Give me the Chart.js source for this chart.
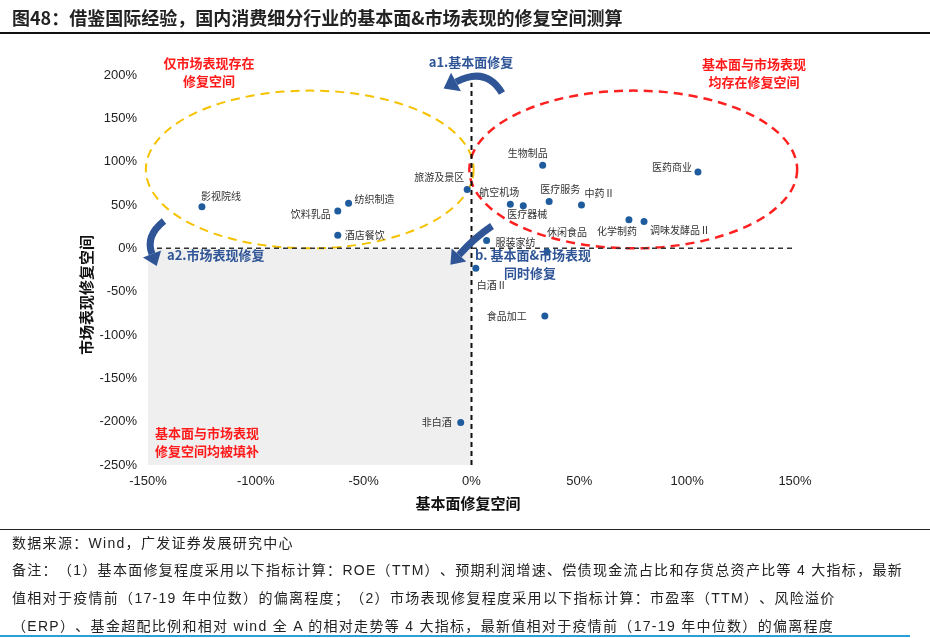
<!DOCTYPE html>
<html>
<head>
<meta charset="utf-8">
<script src="https://cdn.jsdelivr.net/npm/chart.js@4.4.1/dist/chart.umd.min.js"></script>
<style>
  html, body { margin: 0; padding: 0; background: #fff; }
  body { width: 930px; height: 638px; position: relative; overflow: hidden;
         font-family: "Liberation Sans", "Noto Sans CJK SC", sans-serif; color: #222; }
  #wrap { position: absolute; left: 0; top: 0; width: 930px; height: 638px; }
  #title { position: absolute; left: 12px; top: 4px; font: bold 18px "Noto Sans CJK SC", sans-serif;
           color: #222; white-space: nowrap; line-height: 26px; }
  #rule { position: absolute; left: 0; top: 32px; width: 930px; height: 2px; background: #111; }
  #foot-rule { position: absolute; left: 0; top: 529px; width: 930px; height: 1px; background: #222; }
  .note { position: absolute; left: 12px; font-size: 14px; line-height: 18px; white-space: nowrap;
          font-family: "Liberation Sans", "Noto Sans CJK SC", sans-serif; color: #222;
          text-spacing-trim: space-all; letter-spacing: 1.3px; }
  #blue-rule { position: absolute; left: 0; top: 635px; width: 910px; height: 2px; background: #2b9fd8; }
</style>
</head>
<body>
<div id="wrap"><canvas id="chart"></canvas></div>
<div id="title">图48：借鉴国际经验，国内消费细分行业的基本面&amp;市场表现的修复空间测算</div>
<div id="rule"></div>
<div id="foot-rule"></div>
<div class="note" style="top:534px">数据来源：Wind，广发证券发展研究中心</div>
<div class="note" style="top:561px">备注：（1）基本面修复程度采用以下指标计算：ROE（TTM）、预期利润增速、偿债现金流占比和存货总资产比等 4 大指标，最新</div>
<div class="note" style="top:589px">值相对于疫情前（17-19 年中位数）的偏离程度；（2）市场表现修复程度采用以下指标计算：市盈率（TTM）、风险溢价</div>
<div class="note" style="top:617px">（ERP）、基金超配比例和相对 wind 全 A 的相对走势等 4 大指标，最新值相对于疫情前（17-19 年中位数）的偏离程度</div>
<div id="blue-rule"></div>
<script>
const categories = ['影视院线', '纺织制造', '饮料乳品', '酒店餐饮', '旅游及景区', '生物制品', '医药商业',
  '航空机场', '医疗器械', '医疗服务', '中药Ⅱ', '化学制药', '调味发酵品Ⅱ', '服装家纺', '休闲食品',
  '白酒Ⅱ', '食品加工', '非白酒']
const fundamentalRepair = [-125, -57, -62, -62, -2, 33, 105, 18, 24, 36, 51, 73, 80, 7, 35, 2, 34, -5]
const marketRepair = [48, 52, 43, 15, 68, 96, 88, 51, 49, 54, 50, 33, 31, 9, -4, -23, -78, -201]
const xTicks = [-150, -100, -50, 0, 50, 100, 150]
const yTicks = [-250, -200, -150, -100, -50, 0, 50, 100, 150, 200]

// label offsets in px from the point: [dx, dy, align]
const labelPlacement = {
  '影视院线': [19, -11, 'center'], '纺织制造': [6, -4, 'left'], '饮料乳品': [-7, 3, 'right'],
  '酒店餐饮': [7, 0, 'left'], '旅游及景区': [-3, -12, 'right'], '生物制品': [-15, -12, 'center'],
  '医药商业': [-6, -5, 'right'], '航空机场': [-11, -12, 'center'], '医疗器械': [4, 8, 'center'],
  '医疗服务': [11, -12, 'center'], '中药Ⅱ': [18, -12, 'center'], '化学制药': [-12, 11, 'center'],
  '调味发酵品Ⅱ': [6, 9, 'left'], '服装家纺': [9, 2, 'left'], '休闲食品': [20, -20, 'center'],
  '白酒Ⅱ': [16, 17, 'center'], '食品加工': [-18, 0, 'right'], '非白酒': [-9, 0, 'right']
}

const BLUE = '#2f5597'
const RED = '#ff1a1a'

function curvedArrow(ctx, p0, c, p1, w, head) {
  ctx.save()
  ctx.strokeStyle = BLUE
  ctx.fillStyle = BLUE
  ctx.lineWidth = w
  ctx.setLineDash([])
  ctx.beginPath()
  ctx.moveTo(p0[0], p0[1])
  ctx.quadraticCurveTo(c[0], c[1], p1[0], p1[1])
  ctx.stroke()
  const a = Math.atan2(p1[1] - c[1], p1[0] - c[0])
  const tx = p1[0] + Math.cos(a) * head
  const ty = p1[1] + Math.sin(a) * head
  const px = -Math.sin(a) * head * 0.75
  const py = Math.cos(a) * head * 0.75
  ctx.beginPath()
  ctx.moveTo(tx, ty)
  ctx.lineTo(p1[0] + px, p1[1] + py)
  ctx.lineTo(p1[0] - px, p1[1] - py)
  ctx.closePath()
  ctx.fill()
  ctx.restore()
}

function textLines(ctx, lines, x, y, lh, color, font, align) {
  ctx.save()
  ctx.fillStyle = color
  ctx.font = font
  ctx.textAlign = align || 'center'
  ctx.textBaseline = 'middle'
  lines.forEach((t, i) => ctx.fillText(t, x, y + i * lh))
  ctx.restore()
}

const backdrop = {
  id: 'backdrop',
  beforeDatasetsDraw(chart) {
    const { ctx, scales: { x, y } } = chart
    ctx.save()
    // grey quadrant
    ctx.fillStyle = '#efefef'
    ctx.fillRect(x.getPixelForValue(-150), y.getPixelForValue(0),
      x.getPixelForValue(0) - x.getPixelForValue(-150), y.getPixelForValue(-250) - y.getPixelForValue(0))

    // ellipses
    const ell = (cx, cy, rx, ry, color, lw) => {
      const px = x.getPixelForValue(cx)
      const py = y.getPixelForValue(cy)
      const rpx = x.getPixelForValue(cx + rx) - px
      const rpy = py - y.getPixelForValue(cy + ry)
      ctx.beginPath()
      ctx.ellipse(px, py, rpx, rpy, 0, 0, Math.PI * 2)
      ctx.strokeStyle = color
      ctx.lineWidth = lw
      ctx.setLineDash([9, 6])
      ctx.stroke()
    }
    ell(-75, 91, 76, 91, '#f5c200', 2)
    ell(75, 91, 76, 91, '#ff2020', 2.5)

    // dashed quadrant lines
    ctx.strokeStyle = '#111'
    ctx.lineWidth = 2
    ctx.setLineDash([5, 4])
    ctx.beginPath()
    ctx.moveTo(x.getPixelForValue(0), y.getPixelForValue(-250))
    ctx.lineTo(x.getPixelForValue(0), y.getPixelForValue(191))
    ctx.stroke()
    ctx.strokeStyle = '#333'
    ctx.lineWidth = 1.5
    ctx.beginPath()
    ctx.moveTo(x.getPixelForValue(-150), y.getPixelForValue(0))
    ctx.lineTo(x.getPixelForValue(150), y.getPixelForValue(0))
    ctx.stroke()
    ctx.restore()
  },
  afterDatasetsDraw(chart) {
    const { ctx } = chart
    const meta = chart.getDatasetMeta(0)
    ctx.save()
    ctx.font = '10px "Noto Sans CJK SC", sans-serif'
    ctx.fillStyle = '#333'
    ctx.textBaseline = 'middle'
    meta.data.forEach((pt, i) => {
      const [dx, dy, align] = labelPlacement[categories[i]]
      ctx.textAlign = align
      ctx.fillText(categories[i], pt.x + dx, pt.y + dy)
    })
    ctx.restore()

    // arrows
    curvedArrow(ctx, [502, 93], [486, 66], [456, 82], 7, 14)
    curvedArrow(ctx, [164, 221], [145, 236], [152, 254], 7, 13)
    curvedArrow(ctx, [492, 226], [474, 238], [459, 255], 7, 13)

    // annotations
    const bold = 'bold 13px "Noto Sans CJK SC", sans-serif'
    textLines(ctx, ['仅市场表现存在', '修复空间'], 209, 63, 18, RED, bold)
    textLines(ctx, ['基本面与市场表现', '均存在修复空间'], 754, 64, 18, RED, bold)
    textLines(ctx, ['基本面与市场表现', '修复空间均被填补'], 155, 433, 18, RED, bold, 'left')
    textLines(ctx, ['a1.基本面修复'], 471, 62, 18, BLUE, bold)
    textLines(ctx, ['a2.市场表现修复'], 167, 255, 18, BLUE, bold, 'left')
    textLines(ctx, ['b. 基本面&市场表现'], 475, 255, 18, BLUE, bold, 'left')
    textLines(ctx, ['同时修复'], 530, 273, 18, BLUE, bold)

    // axis titles
    const tf = 'bold 15px "Noto Sans CJK SC", sans-serif'
    textLines(ctx, ['基本面修复空间'], 468, 503, 18, '#111', tf)
    ctx.save()
    ctx.translate(86, 295)
    ctx.rotate(-Math.PI / 2)
    textLines(ctx, ['市场表现修复空间'], 0, 0, 18, '#111', tf)
    ctx.restore()
  }
}

const tickFont = { family: '"Liberation Sans", Arial, sans-serif', size: 13 }

new Chart(document.getElementById('chart'), {
  type: 'scatter',
  data: {
    datasets: [{
      data: categories.map((c, i) => ({ x: fundamentalRepair[i], y: marketRepair[i] })),
      backgroundColor: '#1f5c9e',
      borderWidth: 0,
      pointRadius: 3.5,
      pointHoverRadius: 3.5
    }]
  },
  options: {
    responsive: true,
    maintainAspectRatio: false,
    animation: false,
    events: [],
    layout: { padding: { top: 75, right: 135, bottom: 143, left: 0 } },
    plugins: { legend: { display: false }, tooltip: { enabled: false } },
    scales: {
      x: {
        type: 'linear',
        min: -150,
        max: 150,
        afterBuildTicks: (s) => { s.ticks = xTicks.map(v => ({ value: v })) },
        afterFit: (s) => { s.height = 30 },
        grid: { display: false, drawTicks: false },
        border: { display: false },
        ticks: { color: '#222', font: tickFont, padding: 9, callback: v => v + '%' }
      },
      y: {
        type: 'linear',
        min: -250,
        max: 200,
        afterBuildTicks: (s) => { s.ticks = yTicks.map(v => ({ value: v })) },
        afterFit: (s) => { s.width = 148 },
        grid: { display: false, drawTicks: false },
        border: { display: false },
        ticks: { color: '#222', font: tickFont, padding: 11, callback: v => v + '%' }
      }
    }
  },
  plugins: [backdrop]
})
</script>
</body>
</html>
